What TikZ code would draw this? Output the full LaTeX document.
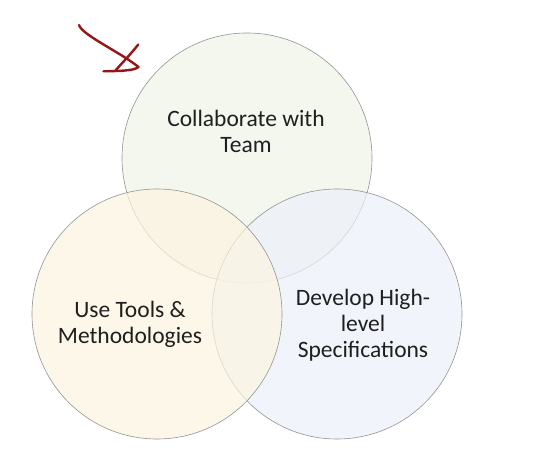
\documentclass[tikz,border=0pt]{standalone}
\usepackage{fontspec}
\setmainfont{Carlito}
\begin{document}
\begin{tikzpicture}[x=1pt,y=-1pt,
  venn/.style={circle,minimum size=250pt,inner sep=0pt,draw=black!42,line width=0.6pt,fill opacity=0.7},
  label/.style={align=center,anchor=base,text=black!88,font=\fontsize{23.5}{26}\selectfont},
  pen/.style={draw={rgb,255:red,150;green,22;blue,22},line width=2.4pt,line cap=round,line join=round}]
  \useasboundingbox[fill=white] (0,0) rectangle (544,457);
  \definecolor{teamfill}{RGB}{240,244,232}
  \definecolor{toolfill}{RGB}{252,244,224}
  \definecolor{specfill}{RGB}{236,241,250}
  % the three overlapping circles
  \node[venn,fill=teamfill] (team) at (247,158) {};
  \node[venn,fill=specfill] (spec) at (337,314) {};
  \node[venn,fill=toolfill] (tools) at (157,314) {};
  % captions (anchored on the baseline of the last line)
  \node[label] (teamtxt) at (246,153) {Collaborate with\\Team};
  \node[label] (toolstxt) at (130,344) {Use Tools \&\\Methodologies};
  \node[label] (spectxt) at (363,357) {Develop High-\\level\\Specifications};
  % hand-drawn pointer
  \coordinate (p0) at (79,25);
  \coordinate (p1) at (138.5,67);
  \coordinate (p2) at (103.5,71.3);
  \coordinate (q0) at (138.3,44.5);
  \coordinate (q1) at (115.5,70.5);
  \path[pen] (p0) .. controls (82,35) and (120,52) .. (p1) .. controls (134,71) and (118,71) .. (p2);
  \path[pen] (q0) .. controls (130,55) and (122,63) .. (q1);
\end{tikzpicture}
\end{document}
